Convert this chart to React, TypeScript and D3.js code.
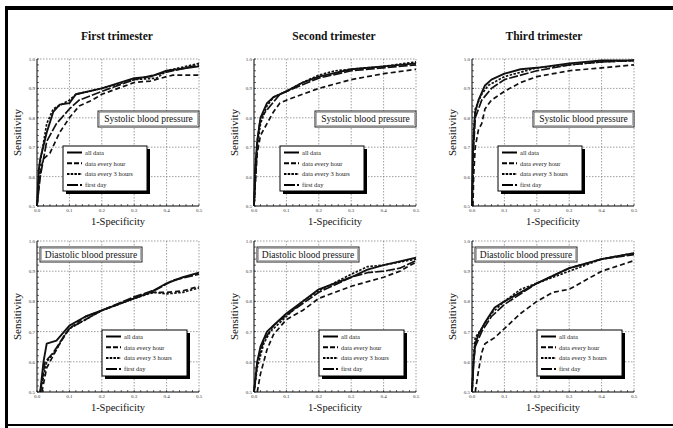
import React from 'react';
import * as d3 from 'd3';

type Pt = [number, number];

const xTicks = [0, 0.1, 0.2, 0.3, 0.4, 0.5];
const yTicks = [0.5, 0.6, 0.7, 0.8, 0.9, 1.0];
const trimesters = ['First trimester', 'Second trimester', 'Third trimester'];
const measures = ['Systolic blood pressure', 'Diastolic blood pressure'];
const seriesNames = ['all data', 'data every hour', 'data every 3 hours', 'first day'];

// first trimester, systolic
const sys1All: Pt[] = [[0, 0.5], [0.005, 0.62], [0.01, 0.66], [0.03, 0.75], [0.05, 0.82], [0.07, 0.845], [0.1, 0.85], [0.12, 0.88], [0.2, 0.9], [0.3, 0.935], [0.35, 0.94], [0.4, 0.96], [0.5, 0.975]];
const sys1Hour: Pt[] = [[0, 0.5], [0.01, 0.62], [0.02, 0.66], [0.04, 0.68], [0.07, 0.75], [0.1, 0.8], [0.13, 0.84], [0.17, 0.86], [0.2, 0.88], [0.25, 0.9], [0.3, 0.92], [0.35, 0.925], [0.4, 0.94], [0.42, 0.945], [0.5, 0.945]];
const sys1Three: Pt[] = [[0, 0.5], [0.01, 0.65], [0.03, 0.78], [0.05, 0.83], [0.1, 0.86], [0.12, 0.88], [0.2, 0.9], [0.3, 0.93], [0.37, 0.935], [0.4, 0.96], [0.5, 0.985]];
const sys1Day: Pt[] = [[0, 0.5], [0.01, 0.6], [0.03, 0.72], [0.06, 0.78], [0.1, 0.83], [0.13, 0.86], [0.2, 0.89], [0.3, 0.93], [0.4, 0.955], [0.5, 0.98]];

// second trimester, systolic
const sys2All: Pt[] = [[0, 0.5], [0.003, 0.62], [0.01, 0.72], [0.02, 0.8], [0.04, 0.85], [0.06, 0.87], [0.1, 0.89], [0.15, 0.92], [0.2, 0.94], [0.3, 0.965], [0.4, 0.975], [0.5, 0.985]];
const sys2Hour: Pt[] = [[0, 0.5], [0.005, 0.6], [0.01, 0.68], [0.02, 0.74], [0.04, 0.78], [0.06, 0.82], [0.08, 0.85], [0.1, 0.86], [0.15, 0.88], [0.2, 0.9], [0.3, 0.93], [0.4, 0.95], [0.5, 0.965]];
const sys2Three: Pt[] = [[0, 0.5], [0.01, 0.7], [0.02, 0.78], [0.04, 0.84], [0.06, 0.87], [0.1, 0.89], [0.15, 0.92], [0.2, 0.945], [0.25, 0.96], [0.3, 0.965], [0.4, 0.975], [0.5, 0.99]];
const sys2Day: Pt[] = [[0, 0.5], [0.01, 0.72], [0.02, 0.8], [0.05, 0.84], [0.08, 0.88], [0.1, 0.89], [0.2, 0.935], [0.3, 0.96], [0.5, 0.98]];

// third trimester, systolic
const sys3All: Pt[] = [[0, 0.5], [0.003, 0.7], [0.01, 0.82], [0.02, 0.86], [0.04, 0.91], [0.06, 0.93], [0.1, 0.95], [0.15, 0.965], [0.2, 0.97], [0.3, 0.985], [0.4, 0.995], [0.5, 0.995]];
const sys3Hour: Pt[] = [[0.003, 0.5], [0.005, 0.6], [0.01, 0.7], [0.02, 0.76], [0.03, 0.78], [0.04, 0.83], [0.06, 0.86], [0.1, 0.89], [0.15, 0.92], [0.2, 0.94], [0.3, 0.96], [0.4, 0.97], [0.5, 0.98]];
const sys3Three: Pt[] = [[0, 0.5], [0.005, 0.75], [0.01, 0.83], [0.03, 0.88], [0.05, 0.91], [0.1, 0.94], [0.2, 0.97], [0.3, 0.98], [0.4, 0.99], [0.5, 0.995]];
const sys3Day: Pt[] = [[0, 0.5], [0.005, 0.7], [0.01, 0.8], [0.03, 0.86], [0.06, 0.9], [0.1, 0.93], [0.2, 0.96], [0.3, 0.98], [0.4, 0.99], [0.5, 0.995]];

// first trimester, diastolic
const dia1All: Pt[] = [[0.01, 0.5], [0.02, 0.6], [0.03, 0.66], [0.06, 0.67], [0.1, 0.72], [0.15, 0.75], [0.2, 0.77], [0.25, 0.79], [0.3, 0.81], [0.35, 0.83], [0.4, 0.86], [0.45, 0.88], [0.5, 0.895]];
const dia1Hour: Pt[] = [[0.015, 0.5], [0.03, 0.58], [0.05, 0.62], [0.07, 0.66], [0.1, 0.71], [0.15, 0.75], [0.2, 0.77], [0.3, 0.81], [0.35, 0.83], [0.4, 0.83], [0.45, 0.835], [0.5, 0.85]];
const dia1Three: Pt[] = [[0.01, 0.5], [0.03, 0.6], [0.06, 0.64], [0.08, 0.68], [0.1, 0.71], [0.2, 0.77], [0.3, 0.81], [0.36, 0.83], [0.4, 0.825], [0.45, 0.83], [0.5, 0.845]];
const dia1Day: Pt[] = [[0.01, 0.5], [0.025, 0.6], [0.05, 0.63], [0.08, 0.68], [0.1, 0.71], [0.2, 0.77], [0.3, 0.815], [0.37, 0.84], [0.42, 0.87], [0.5, 0.89]];

// second trimester, diastolic
const dia2All: Pt[] = [[0, 0.5], [0.01, 0.6], [0.02, 0.65], [0.04, 0.7], [0.07, 0.73], [0.1, 0.76], [0.15, 0.8], [0.2, 0.84], [0.3, 0.88], [0.35, 0.905], [0.4, 0.92], [0.5, 0.945]];
const dia2Hour: Pt[] = [[0.01, 0.5], [0.02, 0.56], [0.04, 0.64], [0.06, 0.69], [0.1, 0.74], [0.15, 0.77], [0.2, 0.81], [0.3, 0.85], [0.4, 0.88], [0.45, 0.9], [0.5, 0.93]];
const dia2Three: Pt[] = [[0, 0.5], [0.01, 0.58], [0.03, 0.66], [0.05, 0.7], [0.1, 0.75], [0.15, 0.8], [0.2, 0.835], [0.3, 0.89], [0.35, 0.915], [0.4, 0.92], [0.5, 0.94]];
const dia2Day: Pt[] = [[0, 0.5], [0.01, 0.6], [0.03, 0.67], [0.06, 0.72], [0.1, 0.755], [0.2, 0.83], [0.3, 0.88], [0.35, 0.895], [0.4, 0.9], [0.45, 0.91], [0.5, 0.935]];

// third trimester, diastolic
const dia3All: Pt[] = [[0, 0.5], [0.005, 0.6], [0.01, 0.66], [0.02, 0.69], [0.04, 0.73], [0.07, 0.78], [0.1, 0.8], [0.15, 0.83], [0.2, 0.86], [0.3, 0.91], [0.4, 0.94], [0.5, 0.96]];
const dia3Hour: Pt[] = [[0.01, 0.5], [0.02, 0.57], [0.03, 0.63], [0.04, 0.66], [0.07, 0.68], [0.1, 0.71], [0.15, 0.76], [0.2, 0.8], [0.25, 0.83], [0.3, 0.84], [0.35, 0.87], [0.4, 0.9], [0.5, 0.935]];
const dia3Three: Pt[] = [[0, 0.5], [0.005, 0.62], [0.01, 0.68], [0.03, 0.71], [0.06, 0.76], [0.1, 0.8], [0.15, 0.84], [0.2, 0.86], [0.3, 0.9], [0.4, 0.94], [0.5, 0.96]];
const dia3Day: Pt[] = [[0, 0.5], [0.005, 0.6], [0.01, 0.65], [0.03, 0.7], [0.06, 0.75], [0.1, 0.79], [0.2, 0.86], [0.3, 0.91], [0.4, 0.94], [0.5, 0.955]];

const systolic = [
  [sys1All, sys1Hour, sys1Three, sys1Day],
  [sys2All, sys2Hour, sys2Three, sys2Day],
  [sys3All, sys3Hour, sys3Three, sys3Day],
];
const diastolic = [
  [dia1All, dia1Hour, dia1Three, dia1Day],
  [dia2All, dia2Hour, dia2Three, dia2Day],
  [dia3All, dia3Hour, dia3Three, dia3Day],
];

// line styles per series (solid, long dash, short dash, long dash w/ small gap)
const styles = [
  { dash: 'none', w: 1.9 },
  { dash: '5,3', w: 1.7 },
  { dash: '2.5,1.5', w: 1.7 },
  { dash: '9,2', w: 1.7 },
];

const FONT = '"Liberation Serif", "DejaVu Serif", serif';
const PW = 162;
const colLeft = [37, 254, 472];
const colTitleX = [117, 334, 544];
const rowTop = [59, 241];
const rowH = [147, 151];

function Panel({ col, row }: { col: number; row: number }) {
  const left = colLeft[col];
  const top = rowTop[row];
  const h = rowH[row];
  const x = d3.scaleLinear().domain([0, 0.5]).range([left, left + PW]);
  const y = d3.scaleLinear().domain([0.5, 1.0]).range([top + h, top]);
  const line = d3.line<Pt>().x(d => x(d[0])).y(d => y(d[1]));
  const series = row === 0 ? systolic[col] : diastolic[col];
  const fmt = d3.format('.1f');
  const minorX = d3.range(0, 0.5001, 0.02);
  const minorY = d3.range(0.5, 1.0001, 0.02);

  // caption box + legend box position (relative to plot corner)
  const cap = row === 0
    ? { x: left + 61, y: top + 52, w: 101, h: 16 }
    : { x: left + 3, y: top + 6, w: 102, h: 15 };
  const leg = row === 0
    ? { x: left + 26, y: top + 87, w: 84, h: 45 }
    : { x: left + 65, y: top + 89, w: 85, h: 46 };

  return (
    <g>
      {/* grid */}
      {xTicks.slice(1).map(t => (
        <line key={'gx' + t} x1={x(t)} x2={x(t)} y1={top} y2={top + h}
          stroke="#777" strokeWidth={0.7} strokeDasharray="1.5,1.5" />
      ))}
      {yTicks.slice(1).map(t => (
        <line key={'gy' + t} x1={left} x2={left + PW} y1={y(t)} y2={y(t)}
          stroke="#777" strokeWidth={0.7} strokeDasharray="1.5,1.5" />
      ))}
      {/* axes */}
      <line x1={left} x2={left} y1={top} y2={top + h} stroke="#000" strokeWidth={1} />
      <line x1={left} x2={left + PW} y1={top + h} y2={top + h} stroke="#000" strokeWidth={1} />
      {minorX.map(t => (
        <line key={'mx' + t} x1={x(t)} x2={x(t)} y1={top + h} y2={top + h - 2} stroke="#000" strokeWidth={0.6} />
      ))}
      {minorY.map(t => (
        <line key={'my' + t} x1={left} x2={left + 2} y1={y(t)} y2={y(t)} stroke="#000" strokeWidth={0.6} />
      ))}
      {xTicks.map(t => (
        <text key={'tx' + t} x={x(t)} y={top + h + 6} fontSize={5} fontFamily={FONT}
          textAnchor="middle" fill="#333">{fmt(t)}</text>
      ))}
      {yTicks.map(t => (
        <text key={'ty' + t} x={left - 2} y={y(t) + 2} fontSize={5} fontFamily={FONT}
          textAnchor="end" fill="#333">{fmt(t)}</text>
      ))}
      {/* curves */}
      {series.map((s, i) => (
        <path key={'s' + i} d={line(s) || ''} fill="none" stroke="#111"
          strokeWidth={styles[i].w} strokeDasharray={styles[i].dash} strokeLinejoin="round" />
      ))}
      {/* caption */}
      <rect x={cap.x} y={cap.y} width={cap.w} height={cap.h} fill="#fff" stroke="#222" strokeWidth={1} />
      <rect x={cap.x + 1.5} y={cap.y + 1.5} width={cap.w - 3} height={cap.h - 3} fill="none" stroke="#666" strokeWidth={0.5} />
      <text x={cap.x + cap.w / 2} y={cap.y + cap.h / 2 + 3.2} fontSize={9.5} fontFamily={FONT}
        textAnchor="middle" fill="#111">{measures[row]}</text>
      {/* legend */}
      <rect x={leg.x + 3} y={leg.y + 3} width={leg.w} height={leg.h} fill="#000" />
      <rect x={leg.x} y={leg.y} width={leg.w} height={leg.h} fill="#fff" stroke="#000" strokeWidth={1} />
      {seriesNames.map((name, i) => {
        const ly = leg.y + 6.5 + i * 10.8;
        return (
          <g key={'l' + i}>
            <line x1={leg.x + 4} x2={leg.x + 19} y1={ly} y2={ly} stroke="#000"
              strokeWidth={2} strokeDasharray={i === 0 ? 'none' : i === 1 ? '5,2' : i === 2 ? '2.5,1.2' : '11,2'} />
            <text x={leg.x + 22} y={ly + 2.3} fontSize={6.5} fontFamily={FONT} fill="#222">{name}</text>
          </g>
        );
      })}
      {/* axis titles */}
      <text x={left + PW / 2} y={top + h + 19} fontSize={10.5} fontFamily={FONT}
        textAnchor="middle" fill="#111">1-Specificity</text>
      <text transform={`translate(${left - 16},${top + h / 2}) rotate(-90)`} fontSize={11}
        fontFamily={FONT} textAnchor="middle" fill="#111">Sensitivity</text>
      {row === 0 && (
        <text x={colTitleX[col]} y={40} fontSize={11.5} fontWeight="bold" fontFamily={FONT}
          textAnchor="middle" fill="#111">{trimesters[col]}</text>
      )}
    </g>
  );
}

export default function App() {
  return (
    <svg width={673} height={428} style={{ position: 'absolute', left: 0, top: 0, background: '#fff' }}>
      <rect x={0} y={0} width={673} height={428} fill="#fff" />
      {/* scan frame */}
      <rect x={5} y={6} width={668} height={4} fill="#000" />
      <rect x={5} y={6} width={3} height={422} fill="#000" />
      <rect x={5} y={424} width={668} height={2} fill="#000" />
      {[0, 1].map(row => [0, 1, 2].map(col => (
        <Panel key={row + '-' + col} col={col} row={row} />
      )))}
    </svg>
  );
}
